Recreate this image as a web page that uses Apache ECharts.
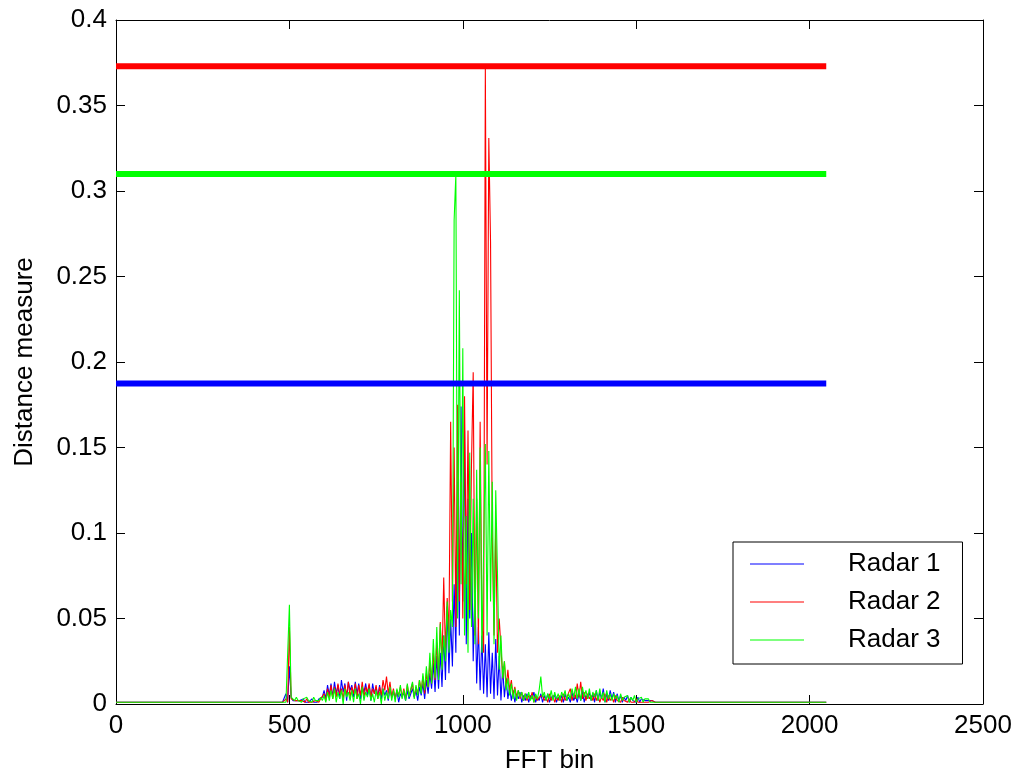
<!DOCTYPE html>
<html>
<head>
<meta charset="utf-8">
<title>Distance measure per FFT bin</title>
<script src="https://cdn.jsdelivr.net/npm/echarts@6/dist/echarts.min.js"></script>
<style>
  html, body { margin: 0; padding: 0; background: #fff; }
  #chart { width: 1015px; height: 771px; }
</style>
</head>
<body>
<div id="chart"></div>
<script>
// Active region of the spectrum is sampled every 5 bins from 480 to 1560;
// the flat floor runs out to bin 0 on the left and bin 2048 on the right.
const activeStart = 480;
const activeStep = 5;
const firstBin = 0;
const lastBin = 2048;

// Distance measure per bin, in thousandths (×1000), first and last entries are the floor.
const radar1Milli = [1,
  1, 1, 6, 1, 22, 4, 2, 1, 2, 1,
  2, 1, 3, 1, 2, 1, 2, 3, 1, 2,
  1, 3, 2, 4, 8, 3, 11, 5, 12, 4,
  13, 6, 11, 3, 14, 7, 12, 2, 13, 8,
  11, 4, 13, 6, 12, 3, 10, 7, 12, 5,
  11, 2, 12, 6, 10, 4, 11, 3, 9, 5,
  8, 2, 9, 4, 7, 3, 8, 1, 6, 4,
  7, 2, 8, 3, 6, 9, 4, 8, 2, 10,
  5, 12, 3, 14, 6, 18, 9, 24, 7, 28,
  9, 30, 10, 40, 14, 57, 18, 50, 22, 70,
  30, 130, 40, 174, 60, 160, 35, 120, 50, 100,
  25, 70, 12, 45, 8, 40, 6, 35, 4, 42,
  6, 30, 3, 38, 5, 28, 2, 22, 4, 15,
  3, 10, 2, 8, 1, 6, 3, 7, 1, 5,
  2, 6, 1, 5, 3, 7, 1, 4, 2, 6,
  1, 5, 2, 6, 1, 4, 3, 5, 1, 4,
  2, 5, 1, 6, 2, 4, 1, 7, 2, 5,
  1, 6, 2, 8, 1, 5, 3, 7, 2, 6,
  1, 8, 2, 7, 3, 9, 1, 6, 2, 8,
  3, 7, 1, 6, 2, 5, 1, 4, 2, 5,
  1, 4, 2, 3, 1, 4, 1, 3, 2, 2,
  1, 2, 1, 2, 1, 1, 1,
1];

const radar2Milli = [1,
  1, 1, 3, 1, 45, 3, 2, 2, 1, 2,
  1, 2, 2, 1, 3, 1, 2, 1, 2, 2,
  2, 1, 3, 2, 6, 2, 9, 4, 11, 3,
  10, 4, 12, 6, 9, 3, 11, 5, 13, 4,
  10, 6, 12, 3, 11, 5, 13, 4, 10, 7,
  12, 4, 9, 6, 11, 3, 10, 5, 14, 8,
  16, 6, 13, 4, 9, 3, 8, 5, 10, 4,
  9, 3, 11, 5, 8, 12, 4, 10, 6, 14,
  8, 16, 6, 18, 10, 24, 12, 30, 14, 36,
  16, 48, 22, 74, 30, 62, 40, 165, 60, 150,
  45, 175, 60, 130, 50, 180, 70, 160, 55, 140,
  194, 40, 120, 35, 165, 50, 30, 373, 140, 331,
  270, 97, 40, 105, 30, 50, 33, 15, 25, 10,
  20, 8, 14, 5, 10, 4, 8, 3, 7, 2,
  6, 2, 5, 3, 7, 1, 5, 2, 4, 3,
  5, 2, 4, 1, 6, 2, 5, 1, 4, 2,
  5, 1, 6, 2, 4, 3, 9, 2, 6, 3,
  12, 4, 13, 3, 7, 2, 6, 3, 5, 2,
  6, 2, 5, 1, 4, 2, 6, 1, 5, 2,
  4, 1, 5, 2, 3, 1, 4, 2, 3, 1,
  3, 1, 2, 1, 3, 1, 2, 1, 2, 1,
  2, 1, 1, 2, 1, 1, 1,
1];

const radar3Milli = [1,
  1, 1, 1, 2, 58, 4, 3, 2, 4, 2,
  3, 1, 3, 2, 4, 2, 3, 1, 4, 2,
  3, 2, 4, 2, 5, 1, 7, 2, 8, 3,
  9, 1, 7, 3, 8, 0, 9, 4, 7, 2,
  8, 1, 9, 3, 6, 0, 10, 2, 7, 4,
  9, 2, 6, 1, 8, 3, 7, 0, 9, 2,
  7, 3, 10, 2, 8, 1, 9, 4, 11, 3,
  8, 2, 12, 4, 9, 13, 3, 11, 5, 14,
  6, 18, 8, 22, 10, 30, 12, 38, 15, 45,
  14, 47, 20, 40, 25, 60, 30, 55, 45, 283,
  310, 50, 242, 70, 208, 40, 110, 30, 147, 45,
  120, 35, 137, 50, 150, 30, 90, 152, 40, 148,
  60, 130, 35, 125, 76, 20, 40, 15, 25, 8,
  15, 5, 12, 3, 9, 2, 8, 4, 7, 2,
  6, 3, 7, 2, 5, 1, 6, 3, 8, 16,
  4, 7, 2, 6, 3, 8, 2, 7, 3, 6,
  2, 7, 4, 8, 2, 6, 3, 9, 4, 10,
  3, 9, 2, 10, 4, 8, 3, 9, 2, 7,
  4, 8, 2, 9, 3, 7, 1, 8, 3, 6,
  2, 6, 3, 5, 1, 6, 2, 4, 3, 5,
  1, 4, 2, 5, 1, 3, 2, 4, 1, 3,
  2, 3, 1, 2, 1, 1, 1,
1];

// Detection thresholds, drawn as heavy horizontal lines across the used bins.
const seriesNames = ['Radar 1', 'Radar 2', 'Radar 3'];
const seriesColors = ['#0000ff', '#ff0000', '#00ff00'];
const thresholds = [0.1875, 0.373, 0.31];

const xTicks = { min: 0, max: 2500, interval: 500 };
const yTicks = { min: 0, max: 0.4, interval: 0.05 };

// FFT bin for each entry of the value arrays.
const bins = [firstBin];
for (let i = 0; i < radar1Milli.length - 2; i++) bins.push(activeStart + i * activeStep);
bins.push(lastBin);

function pairs(milli) {
  return milli.map((v, i) => [bins[i], v / 1000]);
}

const font = "'Liberation Sans', Arial, Helvetica, sans-serif";
const fontSize = 26;

const valueSeries = [radar1Milli, radar2Milli, radar3Milli].map((arr, k) => ({
  name: seriesNames[k],
  type: 'line',
  data: pairs(arr),
  symbol: 'none',
  showSymbol: false,
  sampling: null,
  color: seriesColors[k],
  lineStyle: { color: seriesColors[k], width: 1.1 },
  itemStyle: { color: seriesColors[k] },
  z: 2
}));

const thresholdSeries = thresholds.map((t, k) => ({
  name: seriesNames[k] + ' threshold',
  type: 'line',
  data: [[firstBin, t], [lastBin, t]],
  symbol: 'none',
  color: seriesColors[k],
  lineStyle: { color: seriesColors[k], width: 6, cap: 'butt' },
  z: 3
}));

const axisCommon = {
  type: 'value',
  axisLine: { show: true, onZero: false, lineStyle: { color: '#000', width: 1 } },
  axisTick: { show: true, inside: true, length: 9, lineStyle: { color: '#000', width: 1 } },
  splitLine: { show: false },
  axisLabel: {
    color: '#000', fontFamily: font, fontSize: fontSize, margin: 9,
    formatter: v => String(v)
  }
};

const chart = echarts.init(document.getElementById('chart'), null, { renderer: 'canvas' });
chart.setOption({
  animation: false,
  backgroundColor: '#fff',
  textStyle: { fontFamily: font },
  grid: {
    left: 116, right: 32, top: 20, bottom: 67,
    containLabel: false,
    outerBoundsMode: 'none'
  },
  xAxis: [
    Object.assign({}, axisCommon, xTicks, {
      position: 'bottom',
      name: 'FFT bin',
      nameLocation: 'middle',
      nameGap: 44,
      nameTextStyle: { color: '#000', fontFamily: font, fontSize: fontSize }
    }),
    Object.assign({}, axisCommon, xTicks, {
      position: 'top',
      axisLabel: { show: false }
    })
  ],
  yAxis: [
    Object.assign({}, axisCommon, yTicks, {
      position: 'left',
      name: 'Distance measure',
      nameLocation: 'middle',
      nameGap: 78,
      nameRotate: 90,
      nameTextStyle: { color: '#000', fontFamily: font, fontSize: fontSize }
    }),
    Object.assign({}, axisCommon, yTicks, {
      position: 'right',
      axisLabel: { show: false }
    })
  ],
  legend: {
    data: seriesNames,
    orient: 'vertical',
    left: 733,
    top: 542,
    padding: [8, 22, 10, 17],
    icon: 'rect',
    itemWidth: 54,
    itemHeight: 1,
    itemGap: 10,
    borderColor: '#000',
    borderWidth: 1,
    borderRadius: 0,
    backgroundColor: '#fff',
    selectedMode: false,
    textStyle: {
      color: '#000',
      fontFamily: font,
      fontSize: fontSize,
      lineHeight: 28,
      padding: [0, 0, 0, 39]
    }
  },
  series: valueSeries.concat(thresholdSeries)
});
</script>
</body>
</html>
